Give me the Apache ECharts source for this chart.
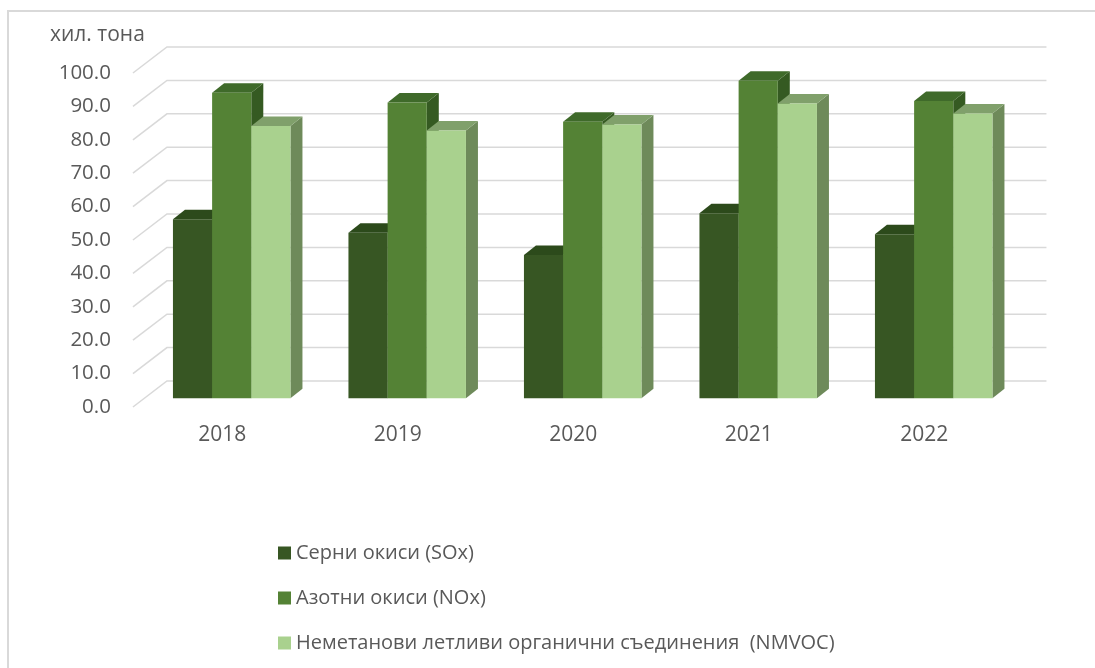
<!DOCTYPE html>
<html><head><meta charset="utf-8">
<script src="https://cdn.jsdelivr.net/npm/echarts@6/dist/echarts.min.js"></script>
<style>html,body{margin:0;padding:0;background:#fff}#c{width:1095px;height:668px}</style>
</head><body><div id="c"></div>
<script>
// ---- data ----
const categories = ['2018', '2019', '2020', '2021', '2022'];
const seriesNames = ['Серни окиси (SOx)', 'Азотни окиси (NOx)', 'Неметанови летливи органични съединения  (NMVOC)'];
const sox = [53.6, 49.6, 42.9, 55.4, 49.1];
const nox = [91.5, 88.6, 82.8, 95.1, 89.0];
const nmvoc = [81.5, 80.2, 82.0, 88.3, 85.3];
const yTicks = [0, 10, 20, 30, 40, 50, 60, 70, 80, 90, 100];
const yUnit = 'хил. тона';

// ---- style ----
const FONT = 'Open Sans';
const TXT = '#595959';
const GRIDC = '#d9d9d9';
const faces = [
  { front: '#375623', top: '#2c4a1b', side: '#2f4d1d' },
  { front: '#548235', top: '#3f6a2a', side: '#355a22' },
  { front: '#a9d18e', top: '#80a06b', side: '#6e8a5a' }
];
const GROUP_FRAC = 117.5 / 175.5;
const DEPTH_DX = 12, DEPTH_DY = -9.5;   // bar depth
const FRONT_DX = -11, FRONT_DY = 8.7;   // front edge of floor rel. to bar plane
const BACK_DX = 23, BACK_DY = -17.3;    // back wall rel. to bar plane

const allValues = [sox, nox, nmvoc];

function makeBarRender(si) {
  return function (params, api) {
    const cat = api.value(0), v = api.value(1);
    const base = api.coord([cat, 0]);
    const tp = api.coord([cat, v]);
    const band = api.size([1, 0])[0];
    const bw = band * GROUP_FRAC / 3;
    const x1 = base[0] - 1.5 * bw + si * bw, x2 = x1 + bw;
    const yb = base[1], yt = tp[1];
    const c = faces[si];
    return {
      type: 'group', children: [
        { type: 'polygon', shape: { points: [[x2, yt], [x2 + DEPTH_DX, yt + DEPTH_DY], [x2 + DEPTH_DX, yb + DEPTH_DY], [x2, yb]] }, style: { fill: c.side } },
        { type: 'polygon', shape: { points: [[x1, yt], [x2, yt], [x2 + DEPTH_DX, yt + DEPTH_DY], [x1 + DEPTH_DX, yt + DEPTH_DY]] }, style: { fill: c.top } },
        { type: 'rect', shape: { x: x1, y: yt, width: bw, height: yb - yt }, style: { fill: c.front } }
      ]
    };
  };
}

function renderWall(params, api) {
  const v = api.value(1);
  const cs = params.coordSys;
  const y = api.coord([0, v])[1];
  const fx = cs.x + FRONT_DX, fy = y + FRONT_DY;
  const bx = cs.x + BACK_DX, by = y + BACK_DY;
  const ex = cs.x + cs.width + BACK_DX + 2;
  return {
    type: 'group', children: [
      { type: 'polyline', shape: { points: [[fx, fy], [bx, by], [ex, by]] }, style: { stroke: GRIDC, lineWidth: 1.5, fill: null } },
      { type: 'text', style: { text: v.toFixed(1), x: fx - 22, y: fy, align: 'right', verticalAlign: 'middle', font: '20.5px "' + FONT + '"', fill: TXT } }
    ]
  };
}

const series = [{
  type: 'custom', name: '_wall', renderItem: renderWall, silent: true, z: 1,
  data: yTicks.map(v => [0, v]), encode: { x: 0, y: 1 }
}];
allValues.forEach((vals, si) => {
  series.push({
    type: 'custom', name: seriesNames[si], renderItem: makeBarRender(si), z: 2 + si,
    itemStyle: { color: faces[si].front },
    data: vals.map((v, i) => [i, v]), encode: { x: 0, y: 1 }
  });
});

const chart = echarts.init(document.getElementById('c'), null, { renderer: 'canvas' });
chart.setOption({
  animation: false,
  backgroundColor: '#fff',
  textStyle: { fontFamily: FONT },
  grid: { left: 143.95, right: 73.55, top: 64.3, bottom: 269.7 },
  xAxis: {
    type: 'category', data: categories,
    axisLine: { show: false }, axisTick: { show: false }, splitLine: { show: false },
    axisLabel: { color: TXT, fontSize: 21, fontFamily: FONT, margin: 26, padding: [0, 19, 0, 0] }
  },
  yAxis: { type: 'value', min: 0, max: 100, interval: 10, show: false },
  legend: {
    data: seriesNames, orient: 'vertical', left: 273, top: 537,
    icon: 'rect', itemWidth: 13, itemHeight: 13, itemGap: 23,
    textStyle: { color: TXT, fontSize: 20, fontFamily: FONT, lineHeight: 22 }
  },
  graphic: [
    { type: 'rect', shape: { x: 8, y: 11, width: 1200, height: 800 }, style: { fill: null, stroke: GRIDC, lineWidth: 2 }, silent: true },
    { type: 'text', style: { text: yUnit, x: 50, y: 35, verticalAlign: 'middle', font: '21px "' + FONT + '"', fill: TXT } }
  ],
  series: series
});
</script></body></html>
